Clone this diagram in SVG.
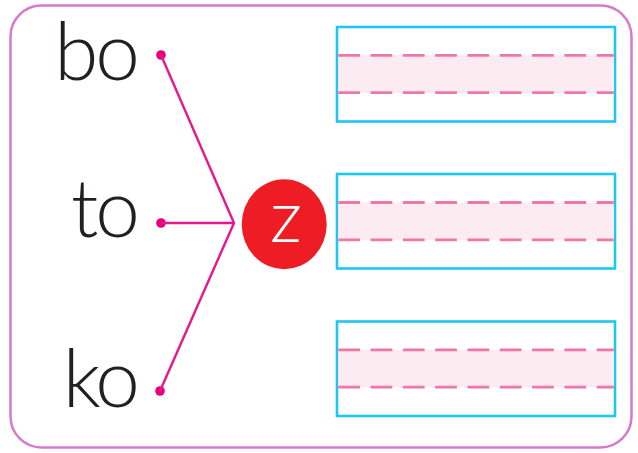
<svg xmlns="http://www.w3.org/2000/svg" width="638" height="453" viewBox="0 0 638 453">
<style>
.word{font-family:Lato,"Liberation Sans",sans-serif;font-weight:300;font-size:80px;letter-spacing:-3px;fill:#231f20}
.box{fill:#fff;stroke:#1ec6f0;stroke-width:2.6}
.band{fill:#fdebf2}
.dash{stroke:#f075a8;stroke-width:2.8;stroke-dasharray:21.7 10.6;fill:none}
.link{stroke:#ea168c;stroke-width:2.4;fill:none}
.dot{fill:#e6007e}
</style>
<rect x="0" y="0" width="638" height="453" fill="#fff"/>
<rect id="frame" x="10.5" y="5.5" width="621" height="442" rx="31" ry="31" fill="#fff" stroke="#d77acb" stroke-width="2.5"/>
<g id="word-bo"><text class="word" x="137" y="80" text-anchor="end">bo</text><circle class="dot" cx="161" cy="55" r="4.8"/></g>
<g id="word-to"><text class="word" x="137" y="237" text-anchor="end">to</text><circle class="dot" cx="161" cy="223" r="4.8"/></g>
<g id="word-ko"><text class="word" x="137" y="407" text-anchor="end">ko</text><circle class="dot" cx="160" cy="391" r="4.8"/></g>
<g id="connectors">
<path class="link" d="M161 55 L234 223 L160 391 M161 223 L234 223"/>
</g>
<g id="letter-z"><ellipse cx="284.2" cy="224.3" rx="42.5" ry="45" fill="#ee1c25"/><text x="286" y="242" text-anchor="middle" font-family="Lato,'Liberation Sans',sans-serif" font-weight="300" font-size="72" fill="#fff">z</text></g>
<g id="box-1"><rect class="box" x="337" y="27" width="278" height="94.5"/><rect class="band" x="338.3" y="55.3" width="275.4" height="37.4"/><path class="dash" d="M338.3 55.3 H613.7 M338.3 92.7 H613.7"/></g>
<g id="box-2"><rect class="box" x="337" y="174" width="278" height="94.5"/><rect class="band" x="338.3" y="202.5" width="275.4" height="37.4"/><path class="dash" d="M338.3 202.5 H613.7 M338.3 239.9 H613.7"/></g>
<g id="box-3"><rect class="box" x="337" y="321.5" width="278" height="94.5"/><rect class="band" x="338.3" y="349.8" width="275.4" height="37.4"/><path class="dash" d="M338.3 349.8 H613.7 M338.3 387.2 H613.7"/></g>
</svg>
